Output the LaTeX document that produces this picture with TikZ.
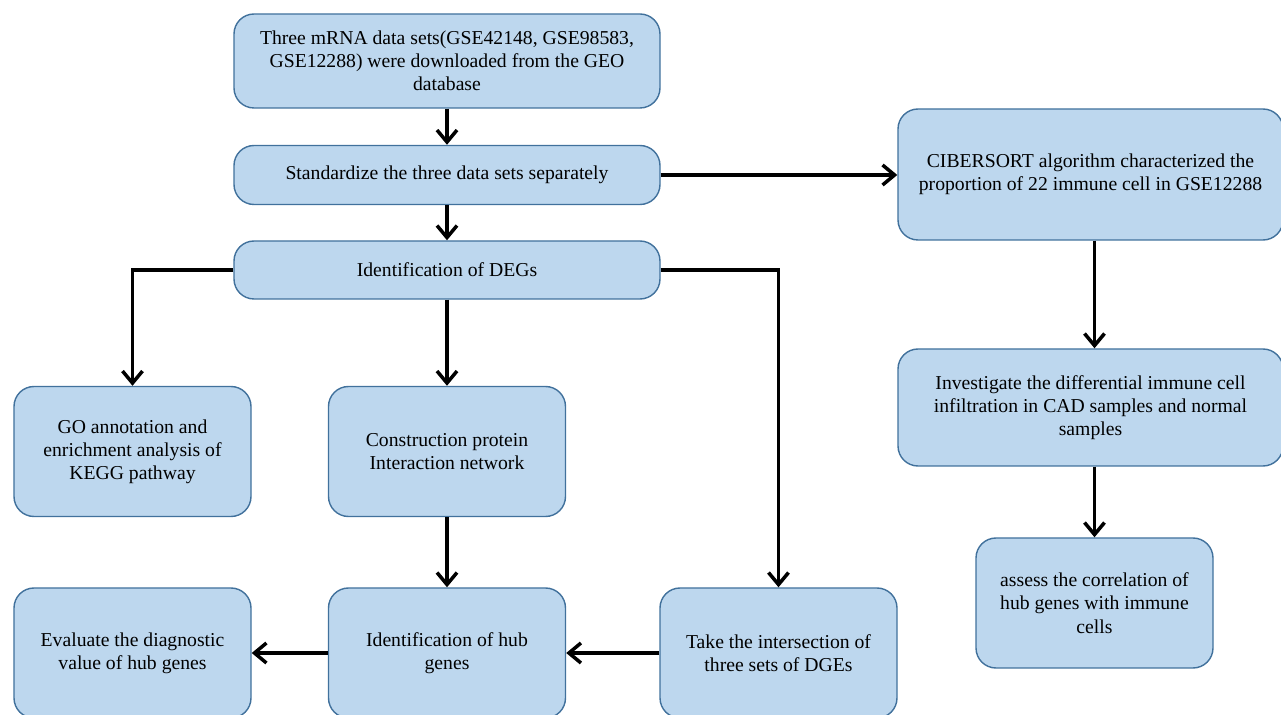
\documentclass[tikz,border=0pt]{standalone}
\usepackage{fontspec}
\setmainfont{Liberation Serif}
\usepackage{tikz}
\usetikzlibrary{positioning, arrows.meta}
\usepackage{xcolor}
\definecolor{boxblue}{HTML}{BDD7EE}
\definecolor{edgeblue}{HTML}{41719C}
\newcommand{\boxcolor}{boxblue}
\newcommand{\edgecolor}{edgeblue}

\begin{document}
\begin{tikzpicture}[
      % GLOBAL CFG
      font=\rmfamily\fontsize{11.2}{13.2}\selectfont,
      >={Straight Barb[length=2.4mm,width=4mm]},
      % Styles
      proc/.style={% For process steps
        rectangle,
        rounded corners=4mm,
        draw=\edgecolor,
        line width=0.8pt,
        fill=\boxcolor,
        align=center,
        inner sep=2pt
      },
      small/.style={% Tall boxes in the lower rows
        proc,
        minimum width=4.74cm,
        minimum height=2.6cm
      },
      arrowflow/.style={% Arrows between the steps
        line width=2pt,
        ->
      }
      ]

      \useasboundingbox (0,0) rectangle (25.62,-14.3);

      % Main column
      \node [proc, minimum width=8.52cm, minimum height=1.88cm] (download) at (8.94,-1.22)
        {Three mRNA data sets(GSE42148, GSE98583,\\ GSE12288) were downloaded from the GEO\\ database};
      \node [proc, minimum width=8.52cm, minimum height=1.18cm] (standard) at (8.94,-3.5)
        {Standardize the three data sets separately};
      \node [proc, minimum width=8.52cm, minimum height=1.16cm] (degs) at (8.94,-5.4)
        {Identification of DEGs};
      \draw [arrowflow] (download) -- (standard);
      \draw [arrowflow] (standard) -- (degs);

      % Branches below the DEGs
      \node [small] (enrich) at (2.65,-9.03)
        {GO annotation and\\ enrichment analysis of\\ KEGG pathway};
      \node [small] (network) at (8.94,-9.03)
        {Construction protein\\ Interaction network};
      \node [small] (hubgenes) at (8.94,-13.06)
        {Identification of hub\\ genes};
      \node [small] (diagnose) at (2.65,-13.06)
        {Evaluate the diagnostic\\ value of hub genes};
      \node [small] (intersect) at (15.57,-13.06)
        {Take the intersection of\\ three sets of DGEs};
      \draw [arrowflow] (degs.west) -| (enrich.north);
      \draw [arrowflow] (degs) -- (network);
      \draw [arrowflow] (degs.east) -| (intersect.north);
      \draw [arrowflow] (network) -- (hubgenes);
      \draw [arrowflow] (intersect) -- (hubgenes);
      \draw [arrowflow] (hubgenes) -- (diagnose);

      % Immune cell column
      \node [proc, minimum width=7.7cm, minimum height=2.62cm] (cibersort) at (21.81,-3.49)
        {CIBERSORT algorithm characterized the\\ proportion of 22 immune cell in GSE12288};
      \node [proc, minimum width=7.7cm, minimum height=2.34cm] (infiltrate) at (21.81,-8.15)
        {Investigate the differential immune cell\\ infiltration in CAD samples and normal\\ samples};
      \node [small] (correlate) at (21.89,-12.06)
        {assess the correlation of\\ hub genes with immune\\ cells};
      \draw [arrowflow] (standard.east) -- (standard.east -| cibersort.west);
      \draw [arrowflow] (correlate.north |- cibersort.south) -- (correlate.north |- infiltrate.north);
      \draw [arrowflow] (correlate.north |- infiltrate.south) -- (correlate.north);

    \end{tikzpicture}
\end{document}
